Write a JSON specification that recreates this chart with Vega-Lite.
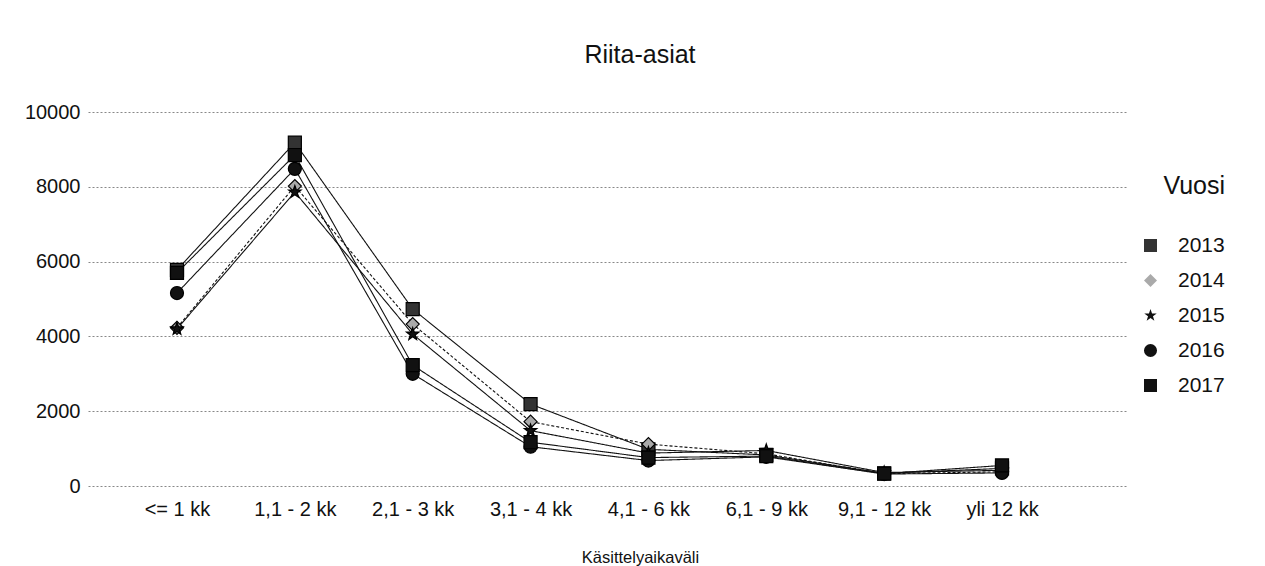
{
  "$schema": "https://vega.github.io/schema/vega-lite/v6.json",
  "autosize": "none",
  "width": 1040,
  "height": 374,
  "padding": {"left": 88, "top": 112, "right": 137, "bottom": 80},
  "background": "white",
  "title": {"text": "Riita-asiat", "fontSize": 25, "font": "Liberation Sans", "fontWeight": "normal", "color": "#111", "offset": 34, "dx": 32},
  "config": {
    "view": {"stroke": null},
    "font": "Liberation Sans"
  },
  "data": {"values": [
    {"nro": 0, "kat": "<= 1 kk", "vuosi": "2013", "arvo": 5780},
    {"nro": 0, "kat": "<= 1 kk", "vuosi": "2014", "arvo": 4230},
    {"nro": 0, "kat": "<= 1 kk", "vuosi": "2015", "arvo": 4200},
    {"nro": 0, "kat": "<= 1 kk", "vuosi": "2016", "arvo": 5160},
    {"nro": 0, "kat": "<= 1 kk", "vuosi": "2017", "arvo": 5700},
    {"nro": 1, "kat": "1,1 - 2 kk", "vuosi": "2013", "arvo": 9180},
    {"nro": 1, "kat": "1,1 - 2 kk", "vuosi": "2014", "arvo": 8020},
    {"nro": 1, "kat": "1,1 - 2 kk", "vuosi": "2015", "arvo": 7860},
    {"nro": 1, "kat": "1,1 - 2 kk", "vuosi": "2016", "arvo": 8480},
    {"nro": 1, "kat": "1,1 - 2 kk", "vuosi": "2017", "arvo": 8850},
    {"nro": 2, "kat": "2,1 - 3 kk", "vuosi": "2013", "arvo": 4730},
    {"nro": 2, "kat": "2,1 - 3 kk", "vuosi": "2014", "arvo": 4330},
    {"nro": 2, "kat": "2,1 - 3 kk", "vuosi": "2015", "arvo": 4060},
    {"nro": 2, "kat": "2,1 - 3 kk", "vuosi": "2016", "arvo": 3000},
    {"nro": 2, "kat": "2,1 - 3 kk", "vuosi": "2017", "arvo": 3230},
    {"nro": 3, "kat": "3,1 - 4 kk", "vuosi": "2013", "arvo": 2190},
    {"nro": 3, "kat": "3,1 - 4 kk", "vuosi": "2014", "arvo": 1720},
    {"nro": 3, "kat": "3,1 - 4 kk", "vuosi": "2015", "arvo": 1480},
    {"nro": 3, "kat": "3,1 - 4 kk", "vuosi": "2016", "arvo": 1050},
    {"nro": 3, "kat": "3,1 - 4 kk", "vuosi": "2017", "arvo": 1170},
    {"nro": 4, "kat": "4,1 - 6 kk", "vuosi": "2013", "arvo": 980},
    {"nro": 4, "kat": "4,1 - 6 kk", "vuosi": "2014", "arvo": 1120},
    {"nro": 4, "kat": "4,1 - 6 kk", "vuosi": "2015", "arvo": 880},
    {"nro": 4, "kat": "4,1 - 6 kk", "vuosi": "2016", "arvo": 680},
    {"nro": 4, "kat": "4,1 - 6 kk", "vuosi": "2017", "arvo": 760},
    {"nro": 5, "kat": "6,1 - 9 kk", "vuosi": "2013", "arvo": 830},
    {"nro": 5, "kat": "6,1 - 9 kk", "vuosi": "2014", "arvo": 860},
    {"nro": 5, "kat": "6,1 - 9 kk", "vuosi": "2015", "arvo": 950},
    {"nro": 5, "kat": "6,1 - 9 kk", "vuosi": "2016", "arvo": 780},
    {"nro": 5, "kat": "6,1 - 9 kk", "vuosi": "2017", "arvo": 800},
    {"nro": 6, "kat": "9,1 - 12 kk", "vuosi": "2013", "arvo": 340},
    {"nro": 6, "kat": "9,1 - 12 kk", "vuosi": "2014", "arvo": 330},
    {"nro": 6, "kat": "9,1 - 12 kk", "vuosi": "2015", "arvo": 360},
    {"nro": 6, "kat": "9,1 - 12 kk", "vuosi": "2016", "arvo": 320},
    {"nro": 6, "kat": "9,1 - 12 kk", "vuosi": "2017", "arvo": 330},
    {"nro": 7, "kat": "yli 12 kk", "vuosi": "2013", "arvo": 470},
    {"nro": 7, "kat": "yli 12 kk", "vuosi": "2014", "arvo": 380},
    {"nro": 7, "kat": "yli 12 kk", "vuosi": "2015", "arvo": 420},
    {"nro": 7, "kat": "yli 12 kk", "vuosi": "2016", "arvo": 350},
    {"nro": 7, "kat": "yli 12 kk", "vuosi": "2017", "arvo": 550}
  ]},
  "encoding": {
    "x": {
      "field": "nro", "type": "quantitative",
      "scale": {"domain": [-0.755, 8.069], "nice": false, "zero": false},
      "axis": {"title": "Käsittelyaikaväli", "values": [0, 1, 2, 3, 4, 5, 6, 7],
        "labelExpr": "['<= 1 kk', '1,1 - 2 kk', '2,1 - 3 kk', '3,1 - 4 kk', '4,1 - 6 kk', '6,1 - 9 kk', '9,1 - 12 kk', 'yli 12 kk'][datum.value]",
        "labelAngle": 0, "labelFontSize": 20, "labelColor": "#111", "labelPadding": 13, "labelFlush": false, "labelOverlap": false, "ticks": false, "domain": false, "grid": false, "titleFontSize": 16.5, "titleFontWeight": "normal", "titleColor": "#111", "titlePadding": 30, "titleX": 552}
    },
    "y": {
      "field": "arvo", "type": "quantitative",
      "scale": {"domain": [0, 10000], "nice": false},
      "axis": {"title": null, "values": [0, 2000, 4000, 6000, 8000, 10000], "format": "d", "labelFontSize": 20, "labelColor": "#111", "labelPadding": 8, "ticks": false, "domain": false, "grid": true, "gridColor": "#888", "gridDash": [2, 2], "gridWidth": 1}
    }
  },
  "layer": [
    {
      "mark": {"type": "line", "strokeWidth": 1.1, "color": "#111"},
      "encoding": {
        "detail": {"field": "vuosi"},
        "strokeDash": {"condition": {"test": "datum.vuosi == '2014'", "value": [3, 2]}, "value": [1, 0]}
      }
    },
    {
      "mark": {"type": "point", "filled": true, "opacity": 1, "strokeWidth": 1.2, "stroke": "#000"},
      "encoding": {
        "shape": {"field": "vuosi", "type": "nominal", "title": "Vuosi",
          "scale": {"domain": ["2013", "2014", "2015", "2016", "2017"], "range": ["square", "diamond", "M0,-1L0.235,-0.324L0.951,-0.309L0.38,0.124L0.588,0.809L0,0.4L-0.588,0.809L-0.38,0.124L-0.951,-0.309L-0.235,-0.324Z", "circle", "square"]},
          "legend": {"orient": "none", "legendX": 1052, "legendY": 62, "titleFontSize": 25, "titleFontWeight": "normal", "titleColor": "#111", "titlePadding": 36, "titleAnchor": "end", "labelFontSize": 21, "labelColor": "#111", "symbolSize": 170, "symbolStrokeColor": "#000", "symbolStrokeWidth": 1.2, "rowPadding": 13, "labelOffset": 17, "titleLimit": 200}},
        "fill": {"field": "vuosi", "type": "nominal", "title": "Vuosi",
          "scale": {"domain": ["2013", "2014", "2015", "2016", "2017"], "range": ["#333", "#aaa", "#111", "#111", "#111"]}},
        "size": {"value": 170}
      }
    }
  ]
}
